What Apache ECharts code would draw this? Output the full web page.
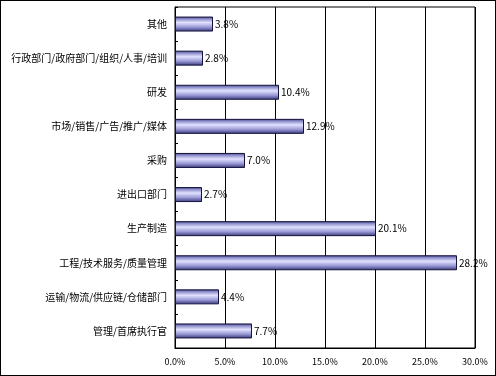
<!DOCTYPE html>
<html><head><meta charset="utf-8">
<script src="https://cdn.jsdelivr.net/npm/echarts@6/dist/echarts.min.js"></script>
<style>html,body{margin:0;padding:0;background:#fff}#c{width:496px;height:376px;box-sizing:border-box;border:1px solid #000}</style>
</head><body><div id="c"></div>
<script>
const categories = ['其他','行政部门/政府部门/组织/人事/培训','研发','市场/销售/广告/推广/媒体','采购','进出口部门','生产制造','工程/技术服务/质量管理','运输/物流/供应链/仓储部门','管理/首席执行官'];
const values = [3.8,2.8,10.4,12.9,7.0,2.7,20.1,28.2,4.4,7.7];
const xTicks = [0,5,10,15,20,25,30];
const font = '"Noto Sans CJK SC", sans-serif';
const chart = echarts.init(document.getElementById('c'), null, {renderer:'canvas'});
chart.setOption({
  animation:false,
  grid:{left:174,top:6,right:20,bottom:27,show:true,borderColor:'#000',borderWidth:1,backgroundColor:'transparent'},
  xAxis:{type:'value',min:xTicks[0],max:xTicks[xTicks.length-1],interval:5,
    axisLine:{show:true,lineStyle:{color:'#000'}},
    axisTick:{show:false},
    splitLine:{show:true,lineStyle:{color:'#000',width:1}},
    axisLabel:{color:'#000',fontFamily:font,fontSize:9,margin:9,formatter:v=>v.toFixed(1)+'%'}},
  yAxis:{type:'category',data:categories,inverse:true,
    axisLine:{show:true,lineStyle:{color:'#000'}},
    axisTick:{show:true,inside:true,length:3,lineStyle:{color:'#000'}},
    axisLabel:{color:'#000',fontFamily:font,fontSize:10,margin:8}},
  series:[{type:'bar',data:values,barWidth:15,
    itemStyle:{borderColor:'#14143c',borderWidth:1,
      color:new echarts.graphic.LinearGradient(0,0,0,1,[
        {offset:0,color:'#3a3a80'},{offset:0.15,color:'#8a8ac8'},{offset:0.4,color:'#e2e2ff'},{offset:0.7,color:'#9a9ad6'},{offset:1,color:'#35357a'}])},
    label:{show:true,position:'right',distance:2,color:'#000',fontFamily:font,fontSize:10,formatter:p=>p.value.toFixed(1)+'%'}}]
});
</script></body></html>
